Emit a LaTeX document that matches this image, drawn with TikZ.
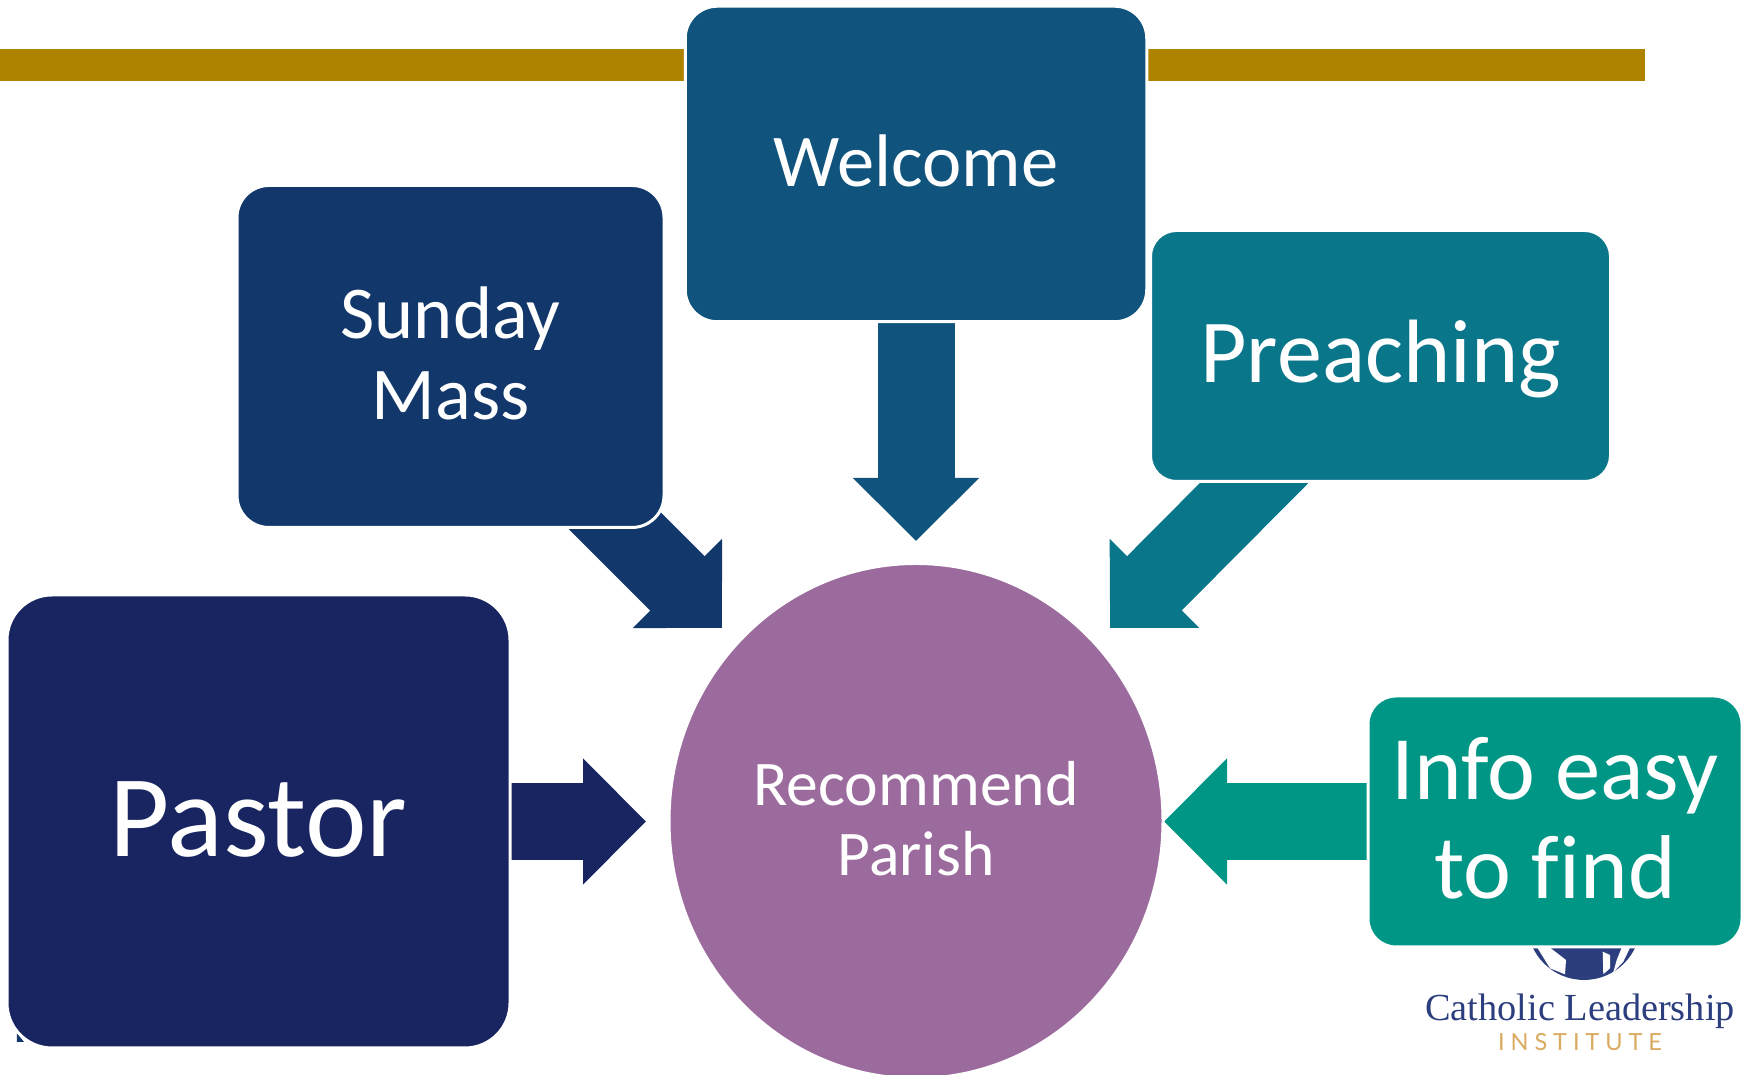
\documentclass[tikz,border=0pt]{standalone}
\usepackage{fontspec}
\setmainfont{Carlito}[Ligatures=NoCommon]
\newfontfamily\logoserif{Liberation Serif}
\newfontfamily\logosans[LetterSpace=25]{Lato}
\usetikzlibrary{arrows.meta,backgrounds,shapes.geometric}
\definecolor{goldbar}{RGB}{173,131,0}
\definecolor{pastorblue}{RGB}{24,37,96}
\definecolor{sundayblue}{RGB}{18,55,107}
\definecolor{welcomeblue}{RGB}{16,84,125}
\definecolor{preachteal}{RGB}{10,118,138}
\definecolor{infoteal}{RGB}{0,150,134}
\definecolor{parishpurple}{RGB}{156,107,158}
\definecolor{logonavy}{RGB}{44,62,125}
\definecolor{logogold}{RGB}{217,170,95}
\newcommand{\nudge}[2]{\raisebox{#1}[\height][\depth]{#2}}
\tikzset{
  box/.style={draw=white,line width=0.03cm,inner sep=0pt,outer sep=0pt,text=white,align=center},
  blockarrow/.style={line width=0.77cm,-{Triangle[length=0.63cm,width=1.225cm]}},
}
\begin{document}
\begin{tikzpicture}%
\useasboundingbox (0, 0) rectangle (17.43, 10.75);%
\node[box,ellipse,fill=parishpurple,minimum width=4.94cm,minimum height=5.15cm,font=\fontsize{18.1}{20}\selectfont] (recommend) at (9.16, 2.54) {\nudge{0.022cm}{Recommend}\\\nudge{0.022cm}{Parish}};%
\node[box,rounded corners=0.32cm,fill=welcomeblue,minimum width=4.615cm,minimum height=3.155cm,font=\fontsize{21.2}{23}\selectfont] (welcome) at (9.16, 9.11) {\nudge{0.033cm}{Welcome}};%
\node[box,rounded corners=0.32cm,fill=sundayblue,minimum width=4.27cm,minimum height=3.42cm,font=\fontsize{21.2}{23.1}\selectfont] (sunday) at (4.505, 7.185) {\nudge{0.03cm}{Sunday}\\\nudge{0.03cm}{Mass}};%
\node[box,rounded corners=0.26cm,fill=preachteal,minimum width=4.60cm,minimum height=2.51cm,font=\fontsize{25.6}{28}\selectfont] (preaching) at (13.805, 7.19) {\nudge{-0.033cm}{Preaching}};%
\node[box,rounded corners=0.45cm,fill=pastorblue,minimum width=5.03cm,minimum height=4.53cm,font=\fontsize{33.2}{36}\selectfont] (pastor) at (2.585, 2.535) {\nudge{0.022cm}{Pastor}};%
\node[box,rounded corners=0.28cm,fill=infoteal,minimum width=3.74cm,minimum height=2.51cm,font=\fontsize{25.8}{28.4}\selectfont] (info) at (15.55, 2.535) {\nudge{0.033cm}{Info easy}\\\nudge{0.033cm}{to find}};%
\coordinate (welcometip) at (9.16, 5.34);%
\coordinate (sundaytip) at (7.22, 4.47);%
\coordinate (preachingtip) at (11.10, 4.47);%
\coordinate (pastortip) at (6.46, 2.535);%
\coordinate (infotip) at (11.64, 2.535);%
\begin{scope}[on background layer]%
\fill[goldbar] (0, 9.94) rectangle (6.85, 10.26);%
\fill[goldbar] (11.47, 9.94) rectangle (16.45, 10.26);%
\draw[blockarrow,welcomeblue] (welcome.center) -- (welcometip);%
\draw[blockarrow,sundayblue] (sunday.center) -- (sundaytip);%
\draw[blockarrow,preachteal] (preaching.center) -- (preachingtip);%
\draw[blockarrow,pastorblue] (pastor.center) -- (pastortip);%
\draw[blockarrow,infoteal] (info.center) -- (infotip);%
\fill[sundayblue] (0.17, 0.42) -- (0.24, 0.33) -- (0.17, 0.33) -- cycle;%
\fill[logonavy] (15.84, 1.516) circle (0.566);%
\fill[white] (15.373, 1.273) -- (15.50, 1.273) -- (15.66, 1.15) -- (15.65, 1.007) -- (15.50, 1.067) -- cycle;%
\fill[white] (16.027, 1.233) -- (16.10, 1.20) -- (16.10, 1.067) -- (16.033, 1.007) -- cycle;%
\fill[white] (16.217, 1.273) -- (16.30, 1.273) -- (16.233, 1.133) -- (16.133, 1.027) -- (16.167, 1.15) -- cycle;%
\end{scope}%
\node[text=logonavy,font=\fontsize{10.9}{12}\logoserif] (logoname) at (15.80, 0.64) {Catholic Leadership};%
\node[text=logogold,font=\fontsize{6.7}{8}\logosans] (logoinst) at (15.80, 0.33) {INSTITUTE};%
\end{tikzpicture}
\end{document}
